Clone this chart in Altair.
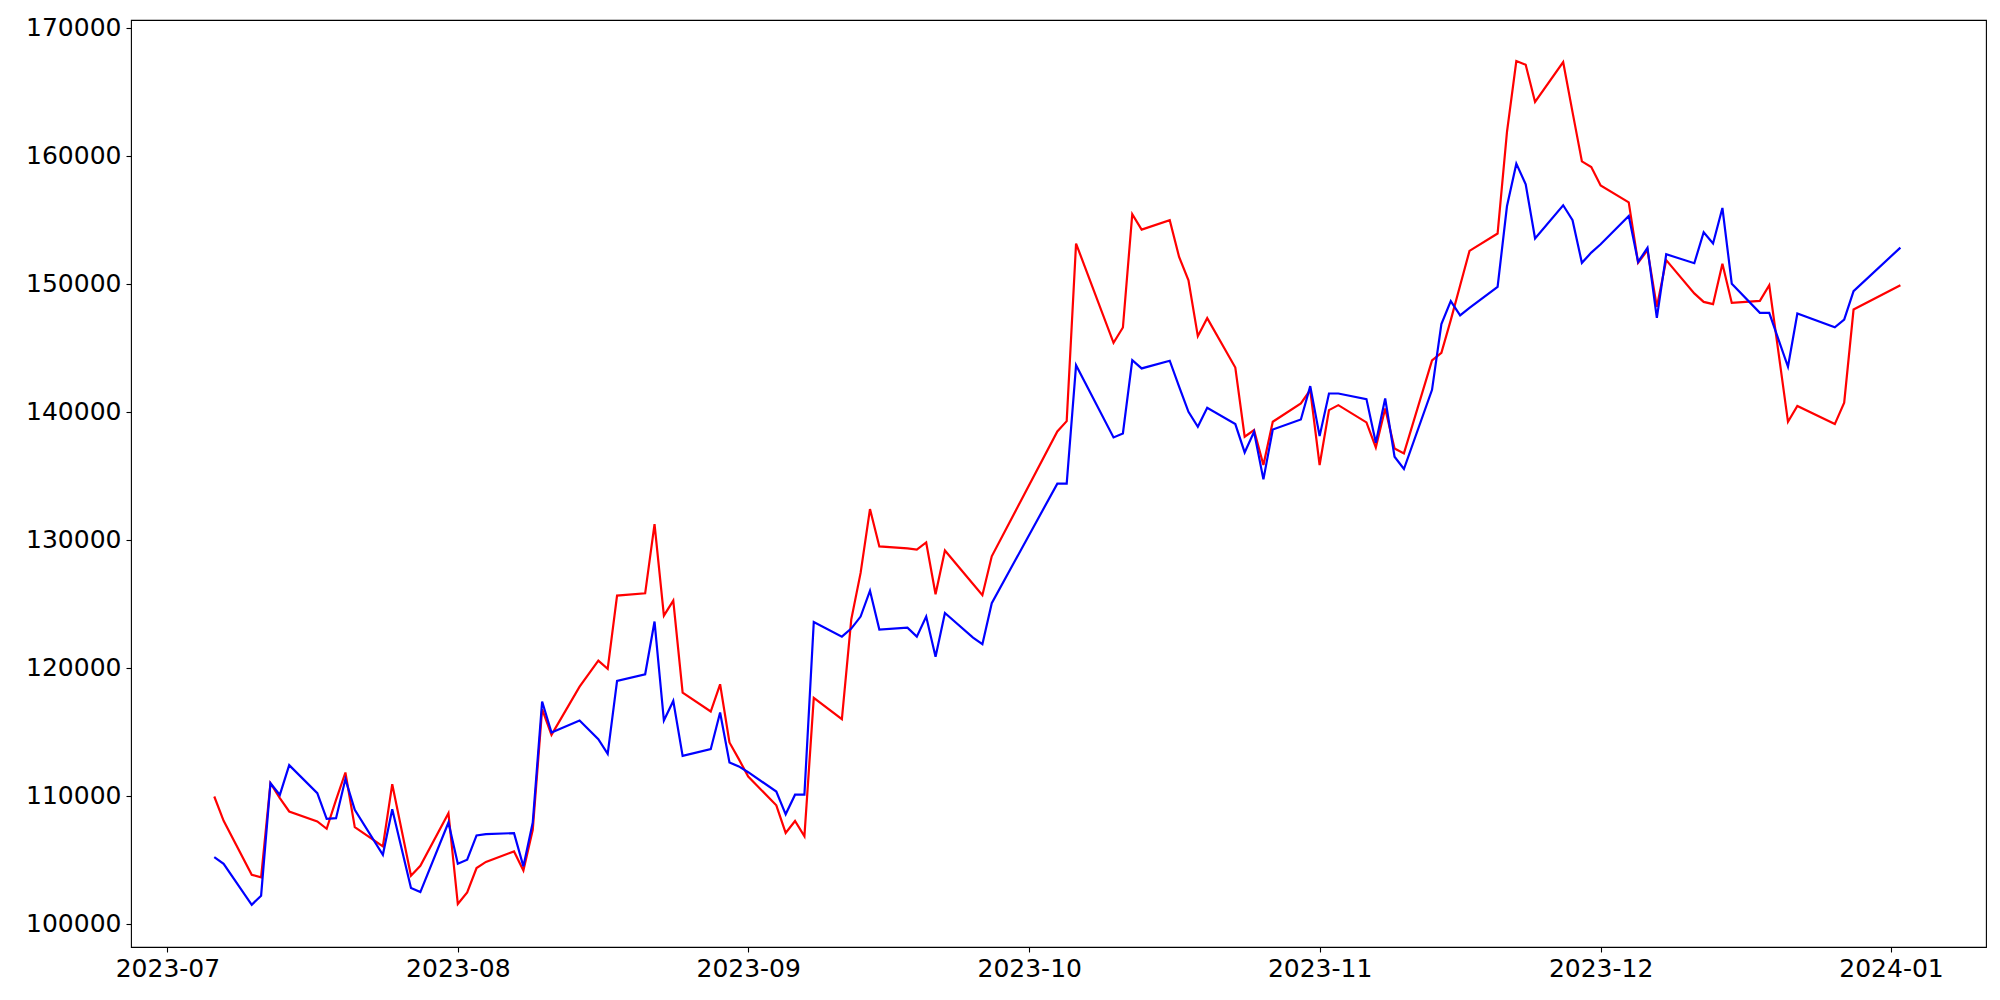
import altair as alt
import pandas as pd

dates = [
    "2023-07-06", "2023-07-07", "2023-07-10", "2023-07-11", "2023-07-12", "2023-07-13", "2023-07-14",
    "2023-07-17", "2023-07-18", "2023-07-19", "2023-07-20", "2023-07-21", "2023-07-24", "2023-07-25",
    "2023-07-27", "2023-07-28", "2023-07-31", "2023-08-01", "2023-08-02", "2023-08-03", "2023-08-04",
    "2023-08-07", "2023-08-08", "2023-08-09", "2023-08-10", "2023-08-11", "2023-08-14", "2023-08-16",
    "2023-08-17", "2023-08-18", "2023-08-21", "2023-08-22", "2023-08-23", "2023-08-24", "2023-08-25",
    "2023-08-28", "2023-08-29", "2023-08-30", "2023-08-31", "2023-09-01", "2023-09-04", "2023-09-05",
    "2023-09-06", "2023-09-07", "2023-09-08", "2023-09-11", "2023-09-12", "2023-09-13", "2023-09-14",
    "2023-09-15", "2023-09-18", "2023-09-19", "2023-09-20", "2023-09-21", "2023-09-22", "2023-09-25",
    "2023-09-26", "2023-09-27", "2023-10-04", "2023-10-05", "2023-10-06", "2023-10-10", "2023-10-11",
    "2023-10-12", "2023-10-13", "2023-10-16", "2023-10-17", "2023-10-18", "2023-10-19", "2023-10-20",
    "2023-10-23", "2023-10-24", "2023-10-25", "2023-10-26", "2023-10-27", "2023-10-30", "2023-10-31",
    "2023-11-01", "2023-11-02", "2023-11-03", "2023-11-06", "2023-11-07", "2023-11-08", "2023-11-09",
    "2023-11-10", "2023-11-13", "2023-11-14", "2023-11-15", "2023-11-16", "2023-11-17", "2023-11-20",
    "2023-11-21", "2023-11-22", "2023-11-23", "2023-11-24", "2023-11-27", "2023-11-28", "2023-11-29",
    "2023-11-30", "2023-12-01", "2023-12-04", "2023-12-05", "2023-12-06", "2023-12-07", "2023-12-08",
    "2023-12-11", "2023-12-12", "2023-12-13", "2023-12-14", "2023-12-15", "2023-12-18", "2023-12-19",
    "2023-12-20", "2023-12-21", "2023-12-22", "2023-12-26", "2023-12-27", "2023-12-28", "2024-01-02",
]

red_values = [
    109940, 108040, 103830, 103620, 110980, 109810, 108770,
    107990, 107420, 109680, 111815, 107550, 106040, 110905,
    103750, 104530, 108640, 101540, 102450, 104350, 104830,
    105650, 104160, 107340, 116760, 114760, 118530, 120560,
    119910, 125640, 125820, 131230, 124070, 125250, 118060,
    116580, 118710, 114160, 112860, 111500, 109250, 107100,
    108030, 106830, 117650, 115980, 123760, 127410, 132400,
    129480, 129330, 129230, 129790, 125740, 129160, 126550,
    125670, 128710, 138470, 139270, 153150, 145390, 146590,
    155440, 154240, 154970, 152100, 150280, 145910, 147320,
    143460, 138050, 138570, 135840, 139220, 140650, 141700,
    135840, 140130, 140520, 139170, 137220, 140260, 137140,
    136750, 144010, 144610, 147160, 149870, 152570, 153930,
    161860, 167410, 167120, 164210, 167330, 163420, 159570,
    159130, 157680, 156370, 151640, 152630, 148200, 151850,
    149250, 148590, 148410, 151560, 148510, 148670, 149890,
    144560, 139220, 140450, 139040, 140710, 147990, 149890,
]

blue_values = [
    105200, 104680, 101480, 102190, 110980, 110070, 112390,
    110200, 108200, 108250, 111300, 108900, 105390, 108950,
    102790, 102470, 107910, 104680, 105000, 106900, 107000,
    107080, 104480, 107910, 117360, 114940, 115880, 114420,
    113270, 118970, 119490, 123610, 115880, 117410, 113120,
    113640, 116500, 112600, 112290, 111840, 110330, 108550,
    110080, 110080, 123580, 122430, 123060, 124000, 126020,
    122990, 123130, 122430, 124000, 120860, 124280, 122360,
    121840, 125050, 134390, 134390, 143640, 138000, 138310,
    144040, 143390, 143990, 141960, 140000, 138830, 140310,
    139040, 136830, 138440, 134720, 138620, 139400, 142010,
    138100, 141430, 141430, 140990, 137580, 141040, 136490,
    135530, 141720, 146850, 148650, 147530, 148120, 149760,
    156060, 159390, 157780, 153540, 156140, 154970, 151640,
    152440, 153090, 155310, 151710, 152810, 147340, 152310,
    151610, 154030, 153150, 155930, 150000, 147730, 147730,
    145620, 143520, 147680, 146600, 147210, 149430, 152830,
]

y_ticks = [100000, 110000, 120000, 130000, 140000, 150000, 160000, 170000]
x_ticks = ["2023-07-01", "2023-08-01", "2023-09-01", "2023-10-01", "2023-11-01", "2023-12-01", "2024-01-01"]


def ms(s):
    return int(pd.Timestamp(s, tz="UTC").value // 10**6)


red_df = pd.DataFrame({"date": dates, "value": red_values})
blue_df = pd.DataFrame({"date": dates, "value": blue_values})

x_enc = alt.X(
    "date:T",
    title=None,
    scale=alt.Scale(type="utc", domain=[ms("2023-06-27 02:40"), ms("2024-01-11 03:20")], nice=False),
    axis=alt.Axis(values=[ms(t) for t in x_ticks], labelExpr="utcFormat(datum.value, '%Y-%m')",
                  grid=False, domain=False, labelFontSize=25, labelFont="DejaVu Sans",
                  labelColor="black", tickColor="black", tickSize=5, tickWidth=1.1,
                  labelPadding=4, labelFlush=False, labelOverlap=False),
)
y_enc = alt.Y(
    "value:Q",
    title=None,
    scale=alt.Scale(domain=[98181, 170615], nice=False, zero=False),
    axis=alt.Axis(values=y_ticks, format="d", grid=False, domain=False, labelFontSize=25,
                  labelFont="DejaVu Sans", labelColor="black", tickColor="black",
                  tickSize=5, tickWidth=1.1, labelPadding=5, labelFlush=False, labelOverlap=False),
)

red_line = alt.Chart(red_df).mark_line(color="#ff0000", strokeWidth=2.2).encode(x=x_enc, y=y_enc)
blue_line = alt.Chart(blue_df).mark_line(color="#0000ff", strokeWidth=2.2).encode(x=x_enc, y=y_enc)

chart = (
    alt.layer(red_line, blue_line)
    .properties(width=1855, height=927, autosize="none", background="white",
                padding={"left": 123, "top": 12, "right": 6, "bottom": 45})
    .configure_view(stroke="black", strokeWidth=1.1)
)

chart.save("out.html", embed_options={"renderer": "svg", "actions": False})
